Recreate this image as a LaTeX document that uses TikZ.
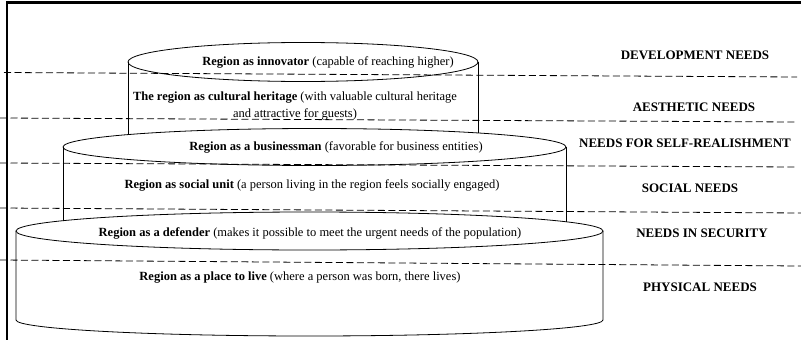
\documentclass[tikz,border=0pt]{standalone}
\usepackage{fontspec}
\setmainfont{Liberation Serif}

\begin{document}
\begin{tikzpicture}[x=1pt, y=-1pt,
    level/.style={font=\fontsize{12.5}{17}\selectfont, align=center},
    need/.style={font=\fontsize{13}{15}\selectfont\bfseries},
    cyl/.style={line width=0.8pt},
    sep/.style={dashed, dash pattern=on 7pt off 3.5pt, line width=0.8pt}]

    \useasboundingbox (0,0) rectangle (801,340);

    % Frame, only top and left edges
    \draw[line width=2.2pt] (801,2.5) -- (7,2.5) -- (7,340);

    % Base cylinder (defender / place to live)
    \draw[cyl] (309.5,231) ellipse [x radius=293.5, y radius=19];
    \draw[cyl] (16,231) -- (16,320) arc[start angle=180, end angle=0, x radius=293.5, y radius=16] -- (603,231);

    % Middle cylinder (businessman / social unit)
    \draw[cyl] (314.5,147) ellipse [x radius=251.5, y radius=18.5];
    \draw[cyl] (63,147) -- (63,220.7); % left side
    \draw[cyl] (566,147) -- (566,221.8); % right side

    % Top cylinder (innovator / cultural heritage)
    \draw[cyl] (303,62) ellipse [x radius=175, y radius=19.5];
    \draw[cyl] (128,62) -- (128,134.6); % left side
    \draw[cyl] (478,62) -- (478,132.9); % right side

    % Dashed lines between the levels
    \draw[sep] (4,72.5) -- (797,77);
    \draw[sep] (0,118) -- (797,122);
    \draw[sep] (0,163) -- (797,167);
    \draw[sep] (0,208) -- (801,213);
    \draw[sep] (0,260) -- (801,266);

    % Texts inside the cylinders
    \node[level] (innov) at (328,62) {\textbf{Region as innovator} (capable of reaching higher)};
    \node[level] (herit) at (295,106) {\textbf{The region as cultural heritage} (with valuable cultural heritage\\and attractive for guests)};
    \node[level] (busin) at (336,147) {\textbf{Region as a businessman} (favorable for business entities)};
    \node[level] (social) at (312,185) {\textbf{Region as social unit} (a person living in the region feels socially engaged)};
    \node[level] (defend) at (310,233) {\textbf{Region as a defender} (makes it possible to meet the urgent needs of the population)};
    \node[level] (place) at (300,278) {\textbf{Region as a place to live} (where a person was born, there lives)};

    % Needs on the right
    \node[need] (dev) at (695,55) {DEVELOPMENT NEEDS};
    \node[need] (aesth) at (694,107) {AESTHETIC NEEDS};
    \node[need] (self) at (685,143) {NEEDS FOR SELF-REALISHMENT};
    \node[need] (soc) at (690,188) {SOCIAL NEEDS};
    \node[need] (secur) at (702,233) {NEEDS IN SECURITY};
    \node[need] (phys) at (700,287) {PHYSICAL NEEDS};
\end{tikzpicture}
\end{document}
